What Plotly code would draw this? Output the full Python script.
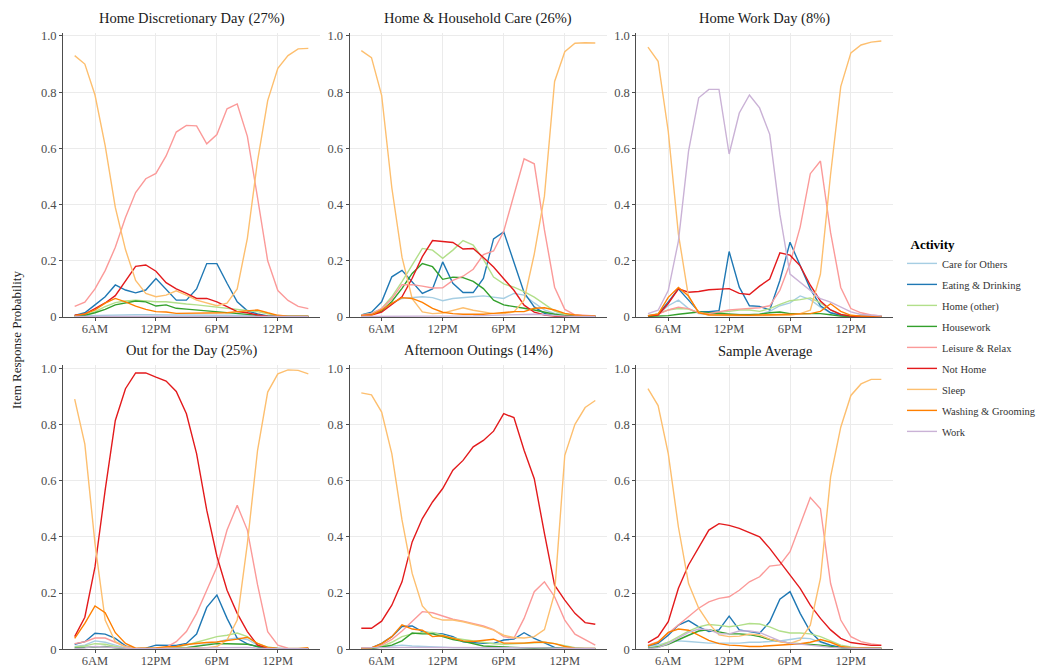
import plotly.graph_objects as go

# Hourly time slots, 4AM through 3AM the next day
hours = list(range(4, 28))
tick_hours = [6, 12, 18, 24]
tick_text = ["6AM", "12PM", "6PM", "12PM"]
y_ticks = [0, 0.2, 0.4, 0.6, 0.8, 1.0]
y_tick_text = ["0", "0.2", "0.4", "0.6", "0.8", "1.0"]

activities = ["Care for Others", "Eating & Drinking", "Home (other)", "Housework",
              "Leisure & Relax", "Not Home", "Sleep", "Washing & Grooming", "Work"]
colors = ["#A6CEE3", "#1F78B4", "#B2DF8A", "#33A02C",
          "#FB9A99", "#E31A1C", "#FDBF6F", "#FF7F00", "#CAB2D6"]

titles = ["Home Discretionary Day (27%)", "Home & Household Care (26%)", "Home Work Day (8%)",
          "Out for the Day (25%)", "Afternoon Outings (14%)", "Sample Average"]

home_discretionary = {
    "Care for Others": [0.004, 0.005, 0.006, 0.007, 0.007, 0.008, 0.008, 0.008, 0.007, 0.007, 0.007, 0.007, 0.006, 0.006, 0.006, 0.006, 0.005, 0.005, 0.004, 0.004, 0.003, 0.003, 0.003, 0.003],
    "Eating & Drinking": [0.006, 0.015, 0.043, 0.072, 0.114, 0.096, 0.086, 0.096, 0.137, 0.10, 0.06, 0.06, 0.10, 0.19, 0.19, 0.12, 0.054, 0.022, 0.011, 0.004, 0.002, 0.002, 0.002, 0.002],
    "Home (other)": [0.004, 0.007, 0.019, 0.037, 0.051, 0.057, 0.06, 0.057, 0.054, 0.054, 0.049, 0.046, 0.043, 0.039, 0.037, 0.033, 0.028, 0.025, 0.019, 0.011, 0.005, 0.003, 0.003, 0.003],
    "Housework": [0.002, 0.006, 0.015, 0.027, 0.043, 0.05, 0.057, 0.054, 0.039, 0.043, 0.031, 0.028, 0.025, 0.02, 0.018, 0.015, 0.012, 0.008, 0.006, 0.003, 0.002, 0.002, 0.002, 0.002],
    "Leisure & Relax": [0.038, 0.053, 0.10, 0.165, 0.248, 0.354, 0.443, 0.492, 0.511, 0.573, 0.658, 0.682, 0.68, 0.616, 0.649, 0.741, 0.758, 0.643, 0.425, 0.20, 0.094, 0.059, 0.038, 0.03],
    "Not Home": [0.006, 0.01, 0.03, 0.05, 0.076, 0.129, 0.18, 0.185, 0.163, 0.122, 0.10, 0.084, 0.066, 0.066, 0.054, 0.037, 0.019, 0.015, 0.007, 0.003, 0.001, 0.001, 0.001, 0.001],
    "Sleep": [0.93, 0.90, 0.79, 0.61, 0.39, 0.24, 0.13, 0.084, 0.072, 0.078, 0.093, 0.078, 0.06, 0.049, 0.04, 0.049, 0.10, 0.28, 0.555, 0.77, 0.885, 0.93, 0.954, 0.956],
    "Washing & Grooming": [0.005, 0.011, 0.025, 0.049, 0.066, 0.054, 0.039, 0.027, 0.019, 0.018, 0.013, 0.013, 0.013, 0.013, 0.014, 0.015, 0.019, 0.022, 0.025, 0.015, 0.006, 0.003, 0.003, 0.003],
    "Work": [0.002, 0.002, 0.003, 0.003, 0.003, 0.003, 0.003, 0.003, 0.003, 0.003, 0.003, 0.003, 0.003, 0.003, 0.003, 0.003, 0.003, 0.002, 0.002, 0.002, 0.002, 0.002, 0.002, 0.002],
}

household_care = {
    "Care for Others": [0.005, 0.01, 0.02, 0.049, 0.066, 0.07, 0.072, 0.069, 0.058, 0.066, 0.07, 0.072, 0.075, 0.07, 0.066, 0.084, 0.078, 0.05, 0.025, 0.013, 0.007, 0.004, 0.004, 0.004],
    "Eating & Drinking": [0.007, 0.017, 0.054, 0.143, 0.166, 0.125, 0.084, 0.10, 0.196, 0.12, 0.087, 0.087, 0.137, 0.278, 0.303, 0.195, 0.087, 0.036, 0.013, 0.005, 0.002, 0.002, 0.002, 0.002],
    "Home (other)": [0.007, 0.013, 0.03, 0.072, 0.126, 0.185, 0.244, 0.238, 0.209, 0.238, 0.272, 0.256, 0.205, 0.142, 0.118, 0.106, 0.09, 0.071, 0.045, 0.021, 0.009, 0.005, 0.003, 0.003],
    "Housework": [0.005, 0.01, 0.021, 0.055, 0.102, 0.155, 0.19, 0.179, 0.134, 0.142, 0.14, 0.127, 0.101, 0.06, 0.043, 0.036, 0.031, 0.025, 0.017, 0.01, 0.005, 0.003, 0.003, 0.003],
    "Leisure & Relax": [0.006, 0.012, 0.03, 0.065, 0.115, 0.115, 0.11, 0.103, 0.104, 0.13, 0.145, 0.17, 0.222, 0.235, 0.305, 0.43, 0.563, 0.545, 0.31, 0.106, 0.027, 0.008, 0.005, 0.004],
    "Not Home": [0.005, 0.007, 0.017, 0.043, 0.072, 0.138, 0.215, 0.272, 0.268, 0.265, 0.242, 0.244, 0.212, 0.178, 0.136, 0.095, 0.042, 0.017, 0.007, 0.003, 0.002, 0.002, 0.002, 0.002],
    "Sleep": [0.948, 0.923, 0.789, 0.46, 0.213, 0.065, 0.018, 0.012, 0.014, 0.024, 0.033, 0.024, 0.018, 0.012, 0.012, 0.018, 0.06, 0.224, 0.43, 0.838, 0.944, 0.974, 0.976, 0.975],
    "Washing & Grooming": [0.005, 0.007, 0.025, 0.049, 0.069, 0.066, 0.052, 0.031, 0.017, 0.012, 0.01, 0.01, 0.01, 0.013, 0.017, 0.019, 0.019, 0.031, 0.033, 0.025, 0.013, 0.007, 0.004, 0.004],
    "Work": [0.002, 0.002, 0.003, 0.003, 0.004, 0.004, 0.004, 0.004, 0.004, 0.004, 0.004, 0.004, 0.005, 0.006, 0.007, 0.008, 0.009, 0.01, 0.008, 0.005, 0.003, 0.002, 0.002, 0.002],
}

home_work = {
    "Care for Others": [0.005, 0.01, 0.04, 0.06, 0.03, 0.012, 0.008, 0.008, 0.008, 0.008, 0.008, 0.01, 0.02, 0.04, 0.05, 0.075, 0.062, 0.035, 0.015, 0.007, 0.004, 0.003, 0.003, 0.003],
    "Eating & Drinking": [0.004, 0.01, 0.054, 0.10, 0.06, 0.019, 0.019, 0.022, 0.233, 0.106, 0.04, 0.038, 0.025, 0.13, 0.266, 0.18, 0.10, 0.04, 0.015, 0.006, 0.002, 0.002, 0.002, 0.002],
    "Home (other)": [0.005, 0.012, 0.025, 0.03, 0.028, 0.015, 0.012, 0.015, 0.02, 0.025, 0.025, 0.02, 0.03, 0.045, 0.058, 0.062, 0.068, 0.05, 0.025, 0.01, 0.005, 0.003, 0.003, 0.003],
    "Housework": [0.002, 0.003, 0.005, 0.01, 0.015, 0.018, 0.015, 0.012, 0.01, 0.008, 0.008, 0.01, 0.015, 0.018, 0.012, 0.012, 0.01, 0.012, 0.008, 0.003, 0.002, 0.002, 0.002, 0.002],
    "Leisure & Relax": [0.005, 0.01, 0.025, 0.035, 0.03, 0.015, 0.012, 0.018, 0.025, 0.028, 0.03, 0.033, 0.04, 0.095, 0.19, 0.32, 0.51, 0.555, 0.30, 0.105, 0.03, 0.015, 0.007, 0.004],
    "Not Home": [0.004, 0.007, 0.048, 0.10, 0.088, 0.091, 0.097, 0.099, 0.101, 0.084, 0.08, 0.11, 0.135, 0.228, 0.22, 0.182, 0.113, 0.057, 0.025, 0.009, 0.003, 0.002, 0.002, 0.002],
    "Sleep": [0.96, 0.91, 0.66, 0.295, 0.071, 0.018, 0.006, 0.005, 0.005, 0.005, 0.005, 0.005, 0.005, 0.005, 0.006, 0.012, 0.024, 0.153, 0.508, 0.82, 0.94, 0.968, 0.978, 0.982],
    "Washing & Grooming": [0.005, 0.01, 0.07, 0.105, 0.075, 0.015, 0.008, 0.007, 0.007, 0.006, 0.006, 0.007, 0.008, 0.008, 0.009, 0.01, 0.012, 0.02, 0.047, 0.02, 0.006, 0.003, 0.003, 0.003],
    "Work": [0.012, 0.024, 0.094, 0.27, 0.59, 0.78, 0.81, 0.81, 0.58, 0.726, 0.79, 0.744, 0.65, 0.366, 0.153, 0.124, 0.094, 0.065, 0.053, 0.035, 0.018, 0.009, 0.006, 0.004],
}

out_for_day = {
    "Care for Others": [0.01, 0.015, 0.03, 0.025, 0.015, 0.005, 0.002, 0.002, 0.002, 0.002, 0.002, 0.005, 0.012, 0.02, 0.025, 0.035, 0.04, 0.035, 0.015, 0.005, 0.002, 0.002, 0.002, 0.002],
    "Eating & Drinking": [0.018, 0.027, 0.057, 0.054, 0.039, 0.012, 0.002, 0.004, 0.015, 0.015, 0.014, 0.021, 0.054, 0.149, 0.193, 0.11, 0.039, 0.019, 0.009, 0.004, 0.002, 0.002, 0.002, 0.002],
    "Home (other)": [0.008, 0.012, 0.02, 0.018, 0.01, 0.004, 0.002, 0.002, 0.002, 0.002, 0.008, 0.015, 0.025, 0.035, 0.045, 0.05, 0.058, 0.045, 0.02, 0.008, 0.003, 0.003, 0.003, 0.003],
    "Housework": [0.005, 0.007, 0.01, 0.01, 0.005, 0.002, 0.002, 0.002, 0.002, 0.002, 0.004, 0.006, 0.01, 0.015, 0.02, 0.02, 0.02, 0.018, 0.01, 0.004, 0.002, 0.002, 0.002, 0.002],
    "Leisure & Relax": [0.02, 0.027, 0.04, 0.04, 0.025, 0.01, 0.002, 0.002, 0.004, 0.007, 0.027, 0.063, 0.128, 0.21, 0.293, 0.424, 0.512, 0.424, 0.23, 0.063, 0.015, 0.004, 0.002, 0.002],
    "Not Home": [0.045, 0.114, 0.293, 0.566, 0.814, 0.927, 0.983, 0.983, 0.968, 0.954, 0.917, 0.838, 0.696, 0.495, 0.331, 0.21, 0.128, 0.063, 0.015, 0.004, 0.002, 0.002, 0.002, 0.002],
    "Sleep": [0.89, 0.73, 0.376, 0.104, 0.027, 0.009, 0.002, 0.002, 0.002, 0.003, 0.003, 0.004, 0.005, 0.006, 0.01, 0.033, 0.104, 0.376, 0.707, 0.915, 0.98, 0.994, 0.992, 0.98],
    "Washing & Grooming": [0.039, 0.092, 0.154, 0.13, 0.059, 0.021, 0.004, 0.004, 0.005, 0.009, 0.01, 0.017, 0.021, 0.024, 0.026, 0.03, 0.036, 0.043, 0.021, 0.007, 0.003, 0.002, 0.002, 0.006],
    "Work": [0.003, 0.005, 0.01, 0.008, 0.005, 0.003, 0.002, 0.002, 0.002, 0.002, 0.003, 0.003, 0.004, 0.005, 0.006, 0.007, 0.008, 0.007, 0.004, 0.002, 0.002, 0.002, 0.002, 0.002],
}

afternoon_outings = {
    "Care for Others": [0.003, 0.004, 0.008, 0.012, 0.015, 0.012, 0.01, 0.008, 0.007, 0.006, 0.006, 0.006, 0.006, 0.006, 0.005, 0.005, 0.005, 0.005, 0.004, 0.004, 0.003, 0.003, 0.003, 0.003],
    "Eating & Drinking": [0.002, 0.005, 0.021, 0.045, 0.081, 0.083, 0.063, 0.057, 0.055, 0.045, 0.027, 0.024, 0.021, 0.021, 0.033, 0.036, 0.059, 0.039, 0.024, 0.007, 0.002, 0.002, 0.002, 0.002],
    "Home (other)": [0.003, 0.004, 0.01, 0.025, 0.045, 0.055, 0.06, 0.06, 0.05, 0.04, 0.035, 0.03, 0.025, 0.02, 0.018, 0.02, 0.022, 0.025, 0.025, 0.02, 0.012, 0.006, 0.003, 0.003],
    "Housework": [0.002, 0.003, 0.008, 0.015, 0.03, 0.058, 0.055, 0.055, 0.045, 0.035, 0.028, 0.02, 0.012, 0.01, 0.008, 0.006, 0.005, 0.004, 0.005, 0.004, 0.002, 0.002, 0.002, 0.002],
    "Leisure & Relax": [0.005, 0.006, 0.015, 0.035, 0.065, 0.098, 0.134, 0.13, 0.119, 0.107, 0.10, 0.092, 0.083, 0.07, 0.045, 0.039, 0.11, 0.205, 0.24, 0.187, 0.104, 0.054, 0.033, 0.015],
    "Not Home": [0.075, 0.075, 0.10, 0.157, 0.24, 0.382, 0.465, 0.524, 0.572, 0.637, 0.672, 0.72, 0.743, 0.776, 0.838, 0.824, 0.708, 0.607, 0.412, 0.228, 0.175, 0.128, 0.095, 0.089],
    "Sleep": [0.912, 0.905, 0.844, 0.696, 0.46, 0.27, 0.154, 0.114, 0.104, 0.104, 0.098, 0.09, 0.08, 0.068, 0.05, 0.042, 0.04, 0.045, 0.07, 0.20, 0.69, 0.80, 0.86, 0.885],
    "Washing & Grooming": [0.004, 0.005, 0.02, 0.045, 0.087, 0.072, 0.068, 0.045, 0.048, 0.04, 0.03, 0.028, 0.032, 0.036, 0.022, 0.022, 0.022, 0.025, 0.025, 0.02, 0.01, 0.004, 0.003, 0.003],
    "Work": [0.005, 0.006, 0.007, 0.007, 0.007, 0.007, 0.007, 0.007, 0.007, 0.007, 0.007, 0.007, 0.007, 0.006, 0.006, 0.006, 0.006, 0.005, 0.005, 0.004, 0.004, 0.003, 0.003, 0.003],
}

sample_average = {
    "Care for Others": [0.01, 0.015, 0.025, 0.03, 0.028, 0.025, 0.022, 0.022, 0.022, 0.022, 0.025, 0.025, 0.028, 0.03, 0.035, 0.04, 0.038, 0.025, 0.012, 0.006, 0.003, 0.003, 0.003, 0.003],
    "Eating & Drinking": [0.012, 0.021, 0.05, 0.086, 0.102, 0.08, 0.063, 0.069, 0.118, 0.069, 0.063, 0.057, 0.098, 0.178, 0.205, 0.128, 0.063, 0.027, 0.015, 0.007, 0.004, 0.004, 0.004, 0.004],
    "Home (other)": [0.005, 0.01, 0.025, 0.045, 0.065, 0.08, 0.088, 0.085, 0.08, 0.085, 0.092, 0.09, 0.08, 0.065, 0.058, 0.058, 0.055, 0.045, 0.03, 0.015, 0.008, 0.004, 0.004, 0.004],
    "Housework": [0.004, 0.008, 0.018, 0.035, 0.05, 0.065, 0.07, 0.062, 0.055, 0.055, 0.052, 0.045, 0.035, 0.028, 0.022, 0.02, 0.018, 0.015, 0.01, 0.005, 0.003, 0.003, 0.003, 0.003],
    "Leisure & Relax": [0.015, 0.027, 0.057, 0.086, 0.116, 0.146, 0.169, 0.181, 0.187, 0.21, 0.24, 0.258, 0.296, 0.30, 0.347, 0.447, 0.54, 0.50, 0.234, 0.104, 0.045, 0.027, 0.019, 0.015],
    "Not Home": [0.024, 0.045, 0.098, 0.217, 0.30, 0.364, 0.424, 0.447, 0.441, 0.43, 0.414, 0.40, 0.359, 0.311, 0.264, 0.217, 0.157, 0.11, 0.069, 0.039, 0.024, 0.018, 0.014, 0.014],
    "Sleep": [0.927, 0.867, 0.696, 0.435, 0.234, 0.146, 0.092, 0.051, 0.045, 0.047, 0.054, 0.051, 0.036, 0.027, 0.021, 0.033, 0.086, 0.252, 0.613, 0.79, 0.903, 0.944, 0.96, 0.96],
    "Washing & Grooming": [0.012, 0.025, 0.06, 0.072, 0.068, 0.05, 0.032, 0.02, 0.015, 0.013, 0.01, 0.01, 0.012, 0.015, 0.018, 0.02, 0.025, 0.035, 0.025, 0.01, 0.006, 0.004, 0.004, 0.004],
    "Work": [0.003, 0.006, 0.02, 0.04, 0.06, 0.072, 0.07, 0.055, 0.055, 0.065, 0.065, 0.06, 0.045, 0.03, 0.022, 0.018, 0.015, 0.01, 0.007, 0.005, 0.003, 0.003, 0.003, 0.003],
}

panels = [home_discretionary, household_care, home_work,
          out_for_day, afternoon_outings, sample_average]

# Panel geometry in pixels (1040 x 668 canvas)
W, H = 1040, 668
col_px = [(63, 320), (349.6, 607), (636.3, 893)]
row_px = [(32.6, 317), (364.8, 649.3)]  # (top, bottom) measured from the top edge

FONT = "Liberation Serif, Times New Roman, serif"
GRID = "#EBEBEB"
AXIS = "#4D4D4D"

fig = go.Figure()
layout = dict(
    width=W, height=H,
    margin=dict(l=0, r=0, t=0, b=0, autoexpand=False),
    paper_bgcolor="white", plot_bgcolor="white",
    font=dict(family=FONT, color="#1A1A1A"),
    showlegend=True,
    legend=dict(
        title=dict(text="<b>&nbsp;&nbsp;Activity</b>",
                   font=dict(size=13, family=FONT, color="#000000")),
        font=dict(size=10.5, family=FONT, color="#333333"),
        x=902 / W, y=1 - 232 / H, xanchor="left", yanchor="top",
        bgcolor="rgba(0,0,0,0)", tracegroupgap=2, itemwidth=30,
    ),
)

annotations = []
for p, data in enumerate(panels):
    r, c = divmod(p, 3)
    idx = p + 1
    xa = "x" if idx == 1 else f"x{idx}"
    ya = "y" if idx == 1 else f"y{idx}"
    x0, x1 = col_px[c]
    top, bot = row_px[r]
    layout["xaxis" if idx == 1 else f"xaxis{idx}"] = dict(
        domain=[x0 / W, x1 / W], anchor=ya, range=[2.85, 28.15],
        tickvals=tick_hours, ticktext=tick_text, automargin=False,
        showgrid=True, gridcolor=GRID, gridwidth=1, zeroline=False,
        showline=True, linecolor=AXIS, linewidth=1,
        ticks="outside", ticklen=3, tickcolor=AXIS, tickwidth=1,
        ticklabelstandoff=-3,
        tickfont=dict(size=12.5, family=FONT, color="#4D4D4D"),
    )
    layout["yaxis" if idx == 1 else f"yaxis{idx}"] = dict(
        domain=[1 - bot / H, 1 - top / H], anchor=xa, range=[0, 1.012],
        tickvals=y_ticks, ticktext=y_tick_text, automargin=False,
        showgrid=True, gridcolor=GRID, gridwidth=1, zeroline=False,
        showline=True, linecolor=AXIS, linewidth=1,
        ticks="outside", ticklen=3, tickcolor=AXIS, tickwidth=1,
        tickfont=dict(size=12.5, family=FONT, color="#4D4D4D"),
    )
    for act, col in zip(activities, colors):
        fig.add_trace(go.Scatter(
            x=hours, y=data[act], mode="lines", name=act,
            line=dict(color=col, width=1.4),
            legendgroup=act, showlegend=(p == 0),
            xaxis=xa, yaxis=ya,
        ))
    annotations.append(dict(
        text=titles[p], xref="paper", yref="paper",
        x=(x0 + x1) / 2 / W, y=1 - (top - 14) / H,
        xanchor="center", yanchor="middle", showarrow=False,
        font=dict(size=14.5, family=FONT, color="#1A1A1A"),
    ))

annotations.append(dict(
    text="Item Response Probability", xref="paper", yref="paper",
    x=16 / W, y=1 - 340 / H, xanchor="center", yanchor="middle",
    textangle=-90, showarrow=False,
    font=dict(size=13, family=FONT, color="#1A1A1A"),
))
layout["annotations"] = annotations

fig.update_layout(**layout)
fig.write_html("out.html")
